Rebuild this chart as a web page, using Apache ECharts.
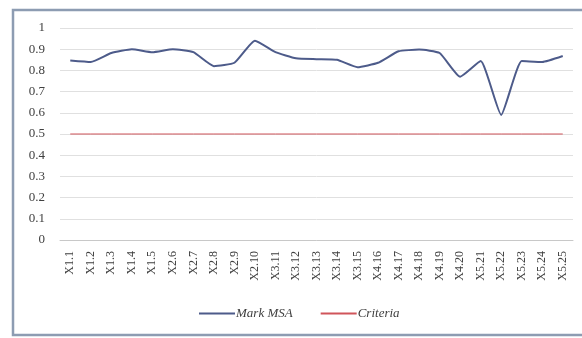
<!DOCTYPE html>
<html><head><meta charset="utf-8">
<script src="https://cdn.jsdelivr.net/npm/echarts@6/dist/echarts.min.js"></script>
<style>html,body{margin:0;padding:0;background:#fff}#c{width:582px;height:338px}</style>
</head><body><div id="c"></div>
<script>
const categories = ["X1.1","X1.2","X1.3","X1.4","X1.5","X2.6","X2.7","X2.8","X2.9","X2.10","X3.11","X3.12","X3.13","X3.14","X3.15","X4.16","X4.17","X4.18","X4.19","X4.20","X5.21","X5.22","X5.23","X5.24","X5.25"];
const markMSA = [0.847,0.840,0.882,0.900,0.886,0.900,0.886,0.820,0.836,0.940,0.886,0.857,0.853,0.850,0.815,0.836,0.890,0.898,0.882,0.770,0.844,0.590,0.844,0.840,0.868];
const criteria = [0.5,0.5,0.5,0.5,0.5,0.5,0.5,0.5,0.5,0.5,0.5,0.5,0.5,0.5,0.5,0.5,0.5,0.5,0.5,0.5,0.5,0.5,0.5,0.5,0.5];
const yTicks = {min:0, max:1, interval:0.1};

const chart = echarts.init(document.getElementById('c'));
const font = 'Liberation Serif';
chart.setOption({
  animation:false,
  graphic:[{type:'rect',shape:{x:13,y:10,width:600,height:325},style:{fill:'none',stroke:'#8d9cb2',lineWidth:2.5},silent:true}],
  grid:{left:60,right:9,top:28,bottom:98},
  legend:{top:302,left:194,itemWidth:36,itemHeight:2,itemGap:28,icon:'rect',
    textStyle:{fontFamily:font,fontStyle:'italic',fontSize:13,color:'#404040',padding:[0,0,0,-4]},
    data:['Mark MSA','Criteria']},
  xAxis:{type:'category',data:categories,boundaryGap:true,
    axisLine:{lineStyle:{color:'#c8c8c8'}},axisTick:{show:false},
    axisLabel:{rotate:90,fontFamily:font,fontSize:12,color:'#404040',margin:11,interval:0}},
  yAxis:{type:'value',min:yTicks.min,max:yTicks.max,interval:yTicks.interval,
    axisLine:{show:false},axisTick:{show:false},
    axisLabel:{fontFamily:font,fontSize:13,color:'#404040',margin:15},
    splitLine:{lineStyle:{color:'#e0e0e0'}}},
  series:[
    {name:'Mark MSA',type:'line',data:markMSA,smooth:0.15,symbol:'none',
      lineStyle:{color:'#4d5b8a',width:2},itemStyle:{color:'#4d5b8a'}},
    {name:'Criteria',type:'line',data:criteria,symbol:'none',
      lineStyle:{color:'#d0555a',width:1},itemStyle:{color:'#d0555a'}}
  ]
});
</script></body></html>
